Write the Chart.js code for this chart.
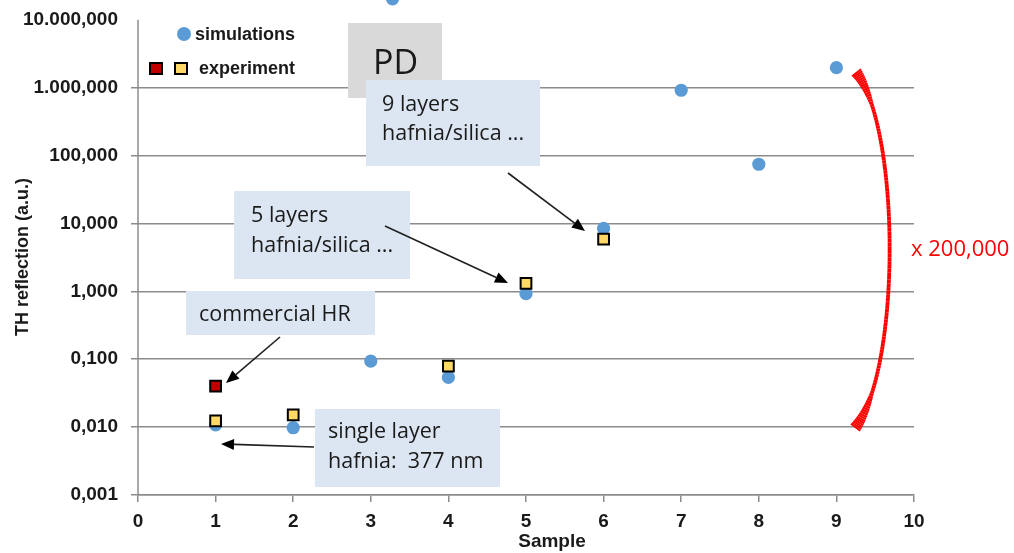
<!DOCTYPE html>
<html>
<head>
<meta charset="utf-8">
<script src="https://cdn.jsdelivr.net/npm/chart.js@4/dist/chart.umd.min.js"></script>
<style>
  html, body { margin: 0; padding: 0; background: #ffffff; }
  canvas { display: block; }
</style>
</head>
<body>
<canvas id="chart" width="1014" height="553"></canvas>
<script>
// Third-harmonic reflection per sample
const simSample = [1, 2, 3, 3.28, 4, 5, 6, 7, 8, 9];
const simReflection = [0.0108, 0.0098, 0.094, 20400, 0.054, 0.925, 8.44, 916, 74.5, 1970];

const expSample = [1, 2, 4, 5, 6];
const expReflection = [0.0124, 0.0152, 0.079, 1.31, 5.87];

const hrSample = [1];
const hrReflection = [0.040];

// Axis ticks (European number format)
const yTickValues = [0.001, 0.01, 0.1, 1, 10, 100, 1000, 10000];
const yTickLabels = ['0,001', '0,010', '0,100', '1,000', '10,000', '100,000', '1.000,000', '10.000,000'];
const xTickValues = [0, 1, 2, 3, 4, 5, 6, 7, 8, 9, 10];
const xTickLabels = ['0', '1', '2', '3', '4', '5', '6', '7', '8', '9', '10'];

const toPoints = (xs, ys) => xs.map((x, i) => ({ x: x, y: ys[i] }));

const GRID = '#8c8c8c';
const BLUE = '#5b9bd5';
const YELLOW = '#ffd966';
const DARKRED = '#c00000';
const NOTE_BG = '#dce6f2';
const TEXT = '#1a1a1a';

// Callout boxes and their labels
const notes = [
  { x: 348, y: 23, w: 94, h: 75, bg: '#d9d9d9', font: '34px "Open Sans"', lines: [['PD', 373, 74]] },
  { x: 366, y: 80, w: 174, h: 86, bg: NOTE_BG, font: '21.5px "Open Sans"', lines: [['9 layers', 382, 111], ['hafnia/silica ...', 382, 140]] },
  { x: 234, y: 191, w: 176, h: 88, bg: NOTE_BG, font: '21.5px "Open Sans"', lines: [['5 layers', 251, 222], ['hafnia/silica ...', 251, 252]] },
  { x: 186, y: 291, w: 189, h: 44, bg: NOTE_BG, font: '21.5px "Open Sans"', lines: [['commercial HR', 199, 321]] },
  { x: 315, y: 409, w: 185, h: 78, bg: NOTE_BG, font: '21.5px "Open Sans"', lines: [['single layer', 328, 438], ['hafnia:  377 nm', 328, 468]] }
];

const pointers = [
  [508, 173, 585, 231],
  [385, 226, 508, 283],
  [280, 337, 226, 383],
  [314, 447, 221, 444]
];

function drawArrow(ctx, x1, y1, x2, y2) {
  const ang = Math.atan2(y2 - y1, x2 - x1);
  const len = 13, half = 5.5;
  const bx = x2 - len * Math.cos(ang), by = y2 - len * Math.sin(ang);
  ctx.save();
  ctx.strokeStyle = '#202020';
  ctx.fillStyle = '#000000';
  ctx.lineWidth = 1.6;
  ctx.beginPath();
  ctx.moveTo(x1, y1);
  ctx.lineTo(bx, by);
  ctx.stroke();
  ctx.beginPath();
  ctx.moveTo(x2, y2);
  ctx.lineTo(bx + half * Math.sin(ang), by - half * Math.cos(ang));
  ctx.lineTo(bx - half * Math.sin(ang), by + half * Math.cos(ang));
  ctx.closePath();
  ctx.fill();
  ctx.restore();
}

function bez(p0, p1, p2, p3, t) {
  const u = 1 - t;
  return u * u * u * p0 + 3 * u * u * t * p1 + 3 * u * t * t * p2 + t * t * t * p3;
}

// Hand-drawn style bracket spanning the factor between samples 1 and 9
function drawBrace(ctx) {
  const P = [[856, 72], [901, 130], [901, 370], [855, 428]];
  const n = 120;
  ctx.save();
  ctx.strokeStyle = '#ff0000';
  ctx.lineCap = 'butt';
  let px = P[0][0], py = P[0][1];
  for (let i = 1; i <= n; i++) {
    const t = i / n;
    const x = bez(P[0][0], P[1][0], P[2][0], P[3][0], t);
    const y = bez(P[0][1], P[1][1], P[2][1], P[3][1], t);
    const d = Math.min(t, 1 - t);
    const w = 3.8 + 8 * Math.max(0, 1 - d / 0.14);
    ctx.lineWidth = w;
    ctx.beginPath();
    ctx.moveTo(px, py);
    ctx.lineTo(x, y);
    ctx.stroke();
    px = x; py = y;
  }
  ctx.restore();
}

const decorations = {
  id: 'decorations',
  beforeDatasetsDraw(chart) {
    const ctx = chart.ctx;
    const y = chart.scales.y;
    const area = chart.chartArea;
    // vertical value axis line
    ctx.save();
    ctx.strokeStyle = GRID;
    ctx.lineWidth = 1.5;
    ctx.beginPath();
    ctx.moveTo(area.left, y.getPixelForValue(10000));
    ctx.lineTo(area.left, area.bottom);
    ctx.stroke();
    // callout boxes
    notes.forEach(n => {
      ctx.fillStyle = n.bg;
      ctx.fillRect(n.x, n.y, n.w, n.h);
    });
    ctx.restore();
  },
  afterDatasetsDraw(chart) {
    const ctx = chart.ctx;
    ctx.save();
    // callout text
    ctx.fillStyle = TEXT;
    ctx.textBaseline = 'alphabetic';
    ctx.textAlign = 'left';
    notes.forEach(n => {
      ctx.font = n.font;
      n.lines.forEach(l => ctx.fillText(l[0], l[1], l[2]));
    });
    pointers.forEach(p => drawArrow(ctx, p[0], p[1], p[2], p[3]));

    // legend
    ctx.fillStyle = BLUE;
    ctx.beginPath();
    ctx.arc(184, 34, 7, 0, Math.PI * 2);
    ctx.fill();
    ctx.lineWidth = 2;
    ctx.strokeStyle = '#000000';
    ctx.fillStyle = DARKRED;
    ctx.fillRect(150, 63, 12, 11);
    ctx.strokeRect(150, 63, 12, 11);
    ctx.fillStyle = YELLOW;
    ctx.fillRect(175, 63, 12, 11);
    ctx.strokeRect(175, 63, 12, 11);
    ctx.fillStyle = TEXT;
    ctx.font = 'bold 18px "Liberation Sans"';
    ctx.textBaseline = 'middle';
    ctx.fillText('simulations', 195, 35);
    ctx.fillText('experiment', 199, 69);

    // factor annotation
    drawBrace(ctx);
    ctx.fillStyle = '#ff0000';
    ctx.font = '22px "Open Sans"';
    ctx.textBaseline = 'alphabetic';
    ctx.fillText('x 200,000', 911, 256);

    // axis titles
    ctx.fillStyle = TEXT;
    ctx.font = 'bold 19px "Liberation Sans"';
    ctx.textAlign = 'center';
    ctx.textBaseline = 'middle';
    ctx.fillText('Sample', 552, 542);
    ctx.translate(23, 257);
    ctx.rotate(-Math.PI / 2);
    ctx.font = 'bold 18px "Liberation Sans"';
    ctx.fillText('TH reflection (a.u.)', 0, 0);
    ctx.restore();
  }
};

new Chart(document.getElementById('chart'), {
  type: 'scatter',
  data: {
    datasets: [
      {
        label: 'commercial HR',
        data: toPoints(hrSample, hrReflection),
        pointStyle: 'rect',
        pointRadius: 7.6,
        pointBackgroundColor: DARKRED,
        pointBorderColor: '#000000',
        pointBorderWidth: 2
      },
      {
        label: 'experiment',
        data: toPoints(expSample, expReflection),
        pointStyle: 'rect',
        pointRadius: 7.6,
        pointBackgroundColor: YELLOW,
        pointBorderColor: '#000000',
        pointBorderWidth: 2
      },
      {
        label: 'simulations',
        data: toPoints(simSample, simReflection),
        pointStyle: 'circle',
        pointRadius: 6.6,
        pointBackgroundColor: BLUE,
        pointBorderWidth: 0,
        clip: false
      }
    ]
  },
  options: {
    responsive: false,
    animation: false,
    events: [],
    layout: { autoPadding: false, padding: { left: 0, right: 100, top: 0, bottom: 0 } },
    plugins: { legend: { display: false }, tooltip: { enabled: false } },
    scales: {
      x: {
        type: 'linear',
        min: 0,
        max: 10,
        afterBuildTicks: s => { s.ticks = xTickValues.map(v => ({ value: v })); },
        afterFit: s => { s.height = 58; s.paddingLeft = 0; s.paddingRight = 0; },
        grid: { drawOnChartArea: false, drawTicks: true, tickLength: 7, color: GRID, lineWidth: 1.5 },
        border: { display: true, color: GRID, width: 1.5 },
        ticks: {
          padding: 8,
          color: TEXT,
          font: { family: 'Liberation Sans', size: 19, weight: 'bold' },
          callback: v => xTickLabels[xTickValues.indexOf(v)]
        }
      },
      y: {
        type: 'logarithmic',
        min: 0.001,
        max: 19570,
        afterBuildTicks: s => { s.ticks = yTickValues.map(v => ({ value: v })); },
        afterFit: s => { s.width = 138; s.paddingTop = 0; s.paddingBottom = 0; },
        grid: {
          drawTicks: true,
          tickLength: 7,
          lineWidth: 1.5,
          color: c => (c.tick && c.tick.value >= 10000) ? 'rgba(0,0,0,0)' : GRID
        },
        border: { display: false },
        ticks: {
          padding: 13,
          color: TEXT,
          font: { family: 'Liberation Sans', size: 19, weight: 'bold' },
          callback: v => yTickLabels[yTickValues.indexOf(v)]
        }
      }
    }
  },
  plugins: [decorations]
});
</script>
</body>
</html>
